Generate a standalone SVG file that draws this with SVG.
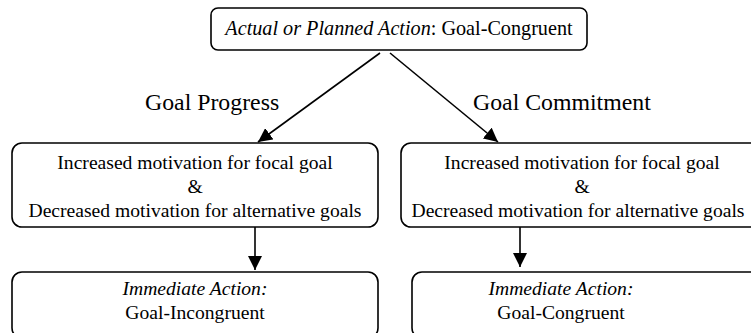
<svg xmlns="http://www.w3.org/2000/svg" width="751" height="333" viewBox="0 0 751 333">
<style>
.box{fill:#fff;stroke:#000;stroke-width:1.6}
text{font-family:'Liberation Serif','Times New Roman','DejaVu Serif',serif;fill:#000}
.t{font-size:19.6px;text-anchor:middle}
.i{font-style:italic}
.lbl{font-size:23.8px}
.c{stroke:#000;stroke-width:1.6;fill:none}
</style>
<defs>
<marker id="ah" viewBox="0 0 10 10" refX="10" refY="5" markerWidth="14" markerHeight="14" markerUnits="userSpaceOnUse" orient="auto">
<path d="M0,0 L10,5 L0,10 z" fill="#000"/>
</marker>
</defs>
<rect width="751" height="333" fill="#fff"/>
<g id="top">
<rect class="box" x="211" y="8" width="376" height="42" rx="7"/>
<text class="t" x="399" y="35" style="font-size:20.2px"><tspan class="i">Actual or Planned Action</tspan>: Goal-Congruent</text>
</g>
<g id="mid-left">
<rect class="box" x="12" y="143" width="366" height="84" rx="10"/>
<text class="t" x="195" y="169">Increased motivation for focal goal</text>
<text class="t" x="195" y="193">&amp;</text>
<text class="t" x="195" y="217">Decreased motivation for alternative goals</text>
</g>
<g id="mid-right">
<rect class="box" x="401" y="143" width="362" height="84" rx="10"/>
<text class="t" x="582" y="169">Increased motivation for focal goal</text>
<text class="t" x="582" y="193">&amp;</text>
<text class="t" x="578" y="217">Decreased motivation for alternative goals</text>
</g>
<g id="bot-left">
<rect class="box" x="12" y="272" width="366" height="66" rx="10"/>
<text class="t i" x="195" y="295">Immediate Action:</text>
<text class="t" x="195" y="319">Goal-Incongruent</text>
</g>
<g id="bot-right">
<rect class="box" x="412" y="272" width="362" height="66" rx="10"/>
<text class="t i" x="561" y="295">Immediate Action:</text>
<text class="t" x="561" y="319">Goal-Congruent</text>
</g>
<g id="labels">
<text class="lbl" x="145" y="110">Goal Progress</text>
<text class="lbl" x="473" y="110">Goal Commitment</text>
</g>
<g id="connectors">
<line class="c" x1="380" y1="53" x2="258" y2="142" marker-end="url(#ah)"/>
<line class="c" x1="390" y1="53" x2="498" y2="142" marker-end="url(#ah)"/>
<line class="c" x1="255" y1="227" x2="255" y2="270" marker-end="url(#ah)"/>
<line class="c" x1="520" y1="227" x2="520" y2="267" marker-end="url(#ah)"/>
</g>
</svg>
